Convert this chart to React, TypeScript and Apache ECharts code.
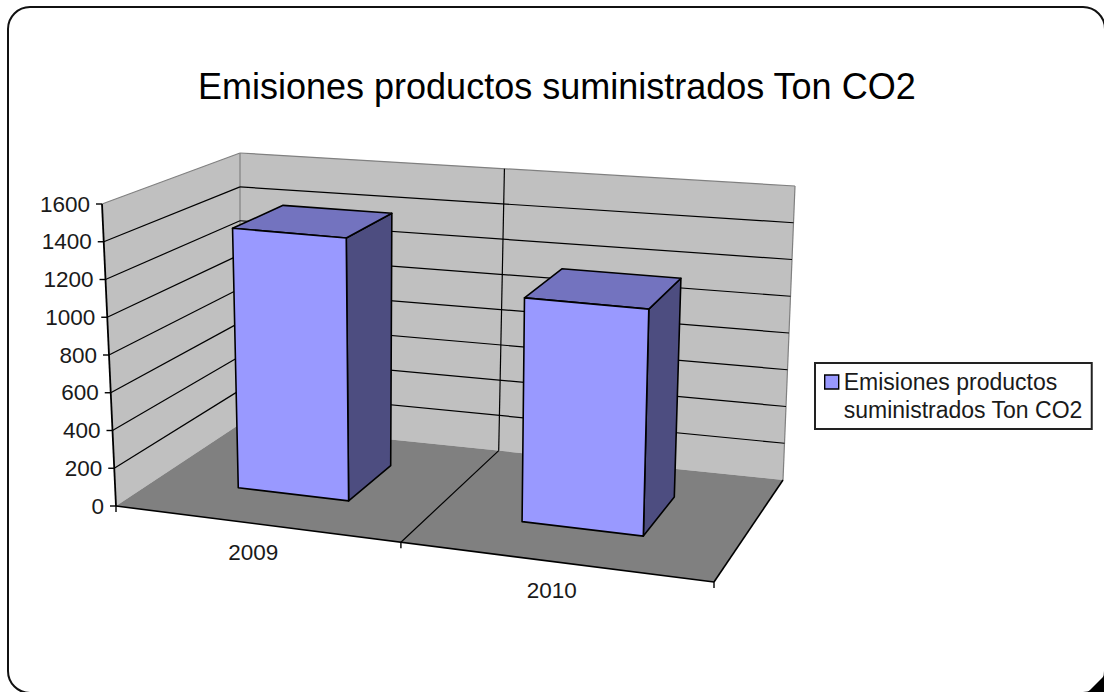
import React, { useEffect, useRef } from "react";
import * as echarts from "echarts";

const titleText = "Emisiones productos suministrados Ton CO2";
const seriesName = "Emisiones productos suministrados Ton CO2";
const legendLines = ["Emisiones productos", "suministrados Ton CO2"];
const categories = ["2009", "2010"];
const values = [1410, 1175];
const yTicks = [0, 200, 400, 600, 800, 1000, 1200, 1400, 1600];
const yMax = 1600;

type P = [number, number];
// corners of the 3D box on screen: front-left, front-right, back-right, back-left
const floorQuad: P[] = [[116, 506], [714, 582], [783, 480], [240, 424]];
const topQuad: P[] = [[102, 204], [724, 260], [795, 186], [240, 153]];
const barFill = 0.4; // bar width as a share of its category band
const barDepth: P = [0.3, 0.7];
const widthWarp = 0.91; // foreshortening along the categories
const depthWarp = 1.2; // foreshortening along the depth

const warp = (s: number, k: number) => (s * k) / (1 + (k - 1) * s);
function bilinear(q: P[], u: number, w: number): P {
  const lx = q[0][0] + (q[3][0] - q[0][0]) * w, ly = q[0][1] + (q[3][1] - q[0][1]) * w;
  const rx = q[1][0] + (q[2][0] - q[1][0]) * w, ry = q[1][1] + (q[2][1] - q[1][1]) * w;
  return [lx + (rx - lx) * u, ly + (ry - ly) * u];
}
// u: along categories, t: value share of the axis, w: depth (0 front, 1 back)
function project(u: number, t: number, w: number): P {
  const uu = warp(u, widthWarp), ww = warp(w, depthWarp);
  const f = bilinear(floorQuad, uu, ww), p = bilinear(topQuad, uu, ww);
  return [f[0] + (p[0] - f[0]) * t, f[1] + (p[1] - f[1]) * t];
}

const FONT = '22.5px "Liberation Sans", Arial, sans-serif';
const TEXT = "#1a1a1a";
const GRID = "#000000";
const EDGE = "#808080";

function seg(a: P, b: P, stroke: string, lineWidth = 1.2) {
  return { type: "line", shape: { x1: a[0], y1: a[1], x2: b[0], y2: b[1] }, style: { stroke, lineWidth, fill: "none" } };
}
function poly(points: P[], fill: string, stroke?: string, lineWidth = 1.6) {
  return { type: "polygon", shape: { points }, style: { fill, stroke: stroke || "none", lineWidth, lineJoin: "round" } };
}
function label(text: string, x: number, y: number, align: string) {
  return { type: "text", style: { text, x, y, fill: TEXT, font: FONT, align, verticalAlign: "middle" } };
}
function norm(params: any, api: any, cat: number, v: number) {
  const cs = params.coordSys;
  const c = api.coord([cat, v]);
  return { u: (c[0] - cs.x) / cs.width, t: (cs.y + cs.height - c[1]) / cs.height, band: api.size([1, 0])[0] / cs.width };
}

export default function App() {
  const ref = useRef<HTMLDivElement>(null);
  useEffect(() => {
    document.body.style.margin = "0";
    const chart = echarts.init(ref.current!, undefined, { renderer: "svg" });
    chart.setOption({
      animation: false,
      backgroundColor: "#ffffff",
      title: {
        text: titleText,
        left: 198,
        top: 68,
        padding: 0,
        textStyle: { fontFamily: '"Liberation Sans", Arial, sans-serif', fontSize: 36, fontWeight: "normal", color: "#000000" },
      },
      legend: {
        left: 815,
        top: 363,
        orient: "vertical",
        padding: [5, 9, 5, 9],
        backgroundColor: "#ffffff",
        borderColor: "#222222",
        borderWidth: 2,
        borderRadius: 0,
        itemWidth: 14,
        itemHeight: 42,
        icon: "path://M0 0H14V14H0Z M0 42",
        data: [seriesName],
        itemStyle: { color: "#9999FF", borderColor: "#000000", borderWidth: 1.4 },
        formatter: () => legendLines.join("\n"),
        textStyle: { fontFamily: '"Liberation Sans", Arial, sans-serif', fontSize: 23, lineHeight: 28, color: TEXT },
        selectedMode: false,
      },
      grid: { left: 100, top: 200, width: 600, height: 300 },
      xAxis: { type: "category", data: categories, show: false, boundaryGap: true },
      yAxis: { type: "value", min: 0, max: yMax, interval: 200, show: false },
      graphic: [
        {
          type: "rect", z: -5, silent: true,
          shape: { x: 8, y: 7, width: 1097, height: 686, r: 22 },
          style: { fill: "#ffffff", stroke: "#111111", lineWidth: 2 },
        },
        {
          type: "polygon", z: -4, silent: true,
          shape: { points: [[1088, 692], [1104, 676], [1104, 692]] },
          style: { fill: "#000000" },
        },
      ],
      series: [
        {
          type: "custom", name: "walls", z: 2, silent: true, clip: false,
          coordinateSystem: "cartesian2d",
          data: [[0, 0]],
          renderItem: () => {
            const A = project(0, 0, 0), B = project(1, 0, 0), D = project(1, 0, 1), C = project(0, 0, 1);
            const E = project(0, 1, 0), H = project(1, 1, 1), G = project(0, 1, 1);
            return {
              type: "group",
              children: [
                poly([G, H, D, C], "#C0C0C0"),
                poly([E, G, C, A], "#C0C0C0"),
                poly([A, B, D, C], "#808080"),
                seg(E, G, EDGE), seg(G, H, EDGE), seg(G, C, EDGE), seg(H, D, EDGE),
                seg(A, B, "#000000", 1.6), seg(B, D, "#000000", 1.6),
              ],
            };
          },
        },
        {
          type: "custom", name: "yTicks", z: 3, silent: true, clip: false,
          coordinateSystem: "cartesian2d",
          data: yTicks.map((v) => [0, v]),
          renderItem: (params: any, api: any) => {
            const v = api.value(1);
            const { t } = norm(params, api, 0, v);
            const front = project(0, t, 0), back = project(0, t, 1), right = project(1, t, 1);
            const children: any[] = [
              seg([front[0] - 6, front[1]], front, "#000000", 1.4),
              label(String(v), front[0] - 12, front[1], "right"),
            ];
            if (v > 0 && v < yMax) children.push(seg(front, back, GRID), seg(back, right, GRID));
            return { type: "group", children };
          },
        },
        {
          type: "custom", name: "xTicks", z: 3, silent: true, clip: false,
          coordinateSystem: "cartesian2d",
          data: categories.map((_, i) => [i, 0]),
          renderItem: (params: any, api: any) => {
            const i = api.value(0);
            const { u, t, band } = norm(params, api, i, 0);
            const hi = u + band / 2;
            const fb = project(hi, t, 0), bb = project(hi, t, 1), tb = project(hi, 1, 1);
            const c = project(u, t, 0);
            const children: any[] = [
              seg(fb, [fb[0], fb[1] + 6], "#000000", 1.4),
              label(categories[i], c[0] - 2, c[1] + 28.5, "center"),
            ];
            if (i === 0) {
              const a0 = project(0, 0, 0), top = project(0, 1, 0);
              children.push(seg(a0, top, "#000000", 1.8), seg(a0, [a0[0], a0[1] + 6], "#000000", 1.4));
            }
            if (i < categories.length - 1) children.push(seg(fb, bb, GRID), seg(bb, tb, GRID));
            return { type: "group", children };
          },
        },
        {
          type: "custom", name: seriesName, z: 4, silent: true, clip: false,
          coordinateSystem: "cartesian2d",
          itemStyle: { color: "#9999FF" },
          data: categories.map((_, i) => [i, values[i]]),
          renderItem: (params: any, api: any) => {
            const i = api.value(0);
            const { u, t, band } = norm(params, api, i, api.value(1));
            const u0 = u - (band * barFill) / 2, u1 = u + (band * barFill) / 2;
            const [w0, w1] = barDepth;
            const fbl = project(u0, 0, w0), fbr = project(u1, 0, w0), bbr = project(u1, 0, w1);
            const ftl = project(u0, t, w0), ftr = project(u1, t, w0), btr = project(u1, t, w1), btl = project(u0, t, w1);
            return {
              type: "group",
              children: [
                poly([fbr, bbr, btr, ftr], "#4D4D80", "#000000"),
                poly([ftl, ftr, btr, btl], "#7373BF", "#000000"),
                poly([fbl, fbr, ftr, ftl], "#9999FF", "#000000"),
              ],
            };
          },
        },
      ],
    });
    return () => chart.dispose();
  }, []);
  return <div ref={ref} style={{ width: 1104, height: 692, position: "absolute", left: 0, top: 0 }} />;
}
